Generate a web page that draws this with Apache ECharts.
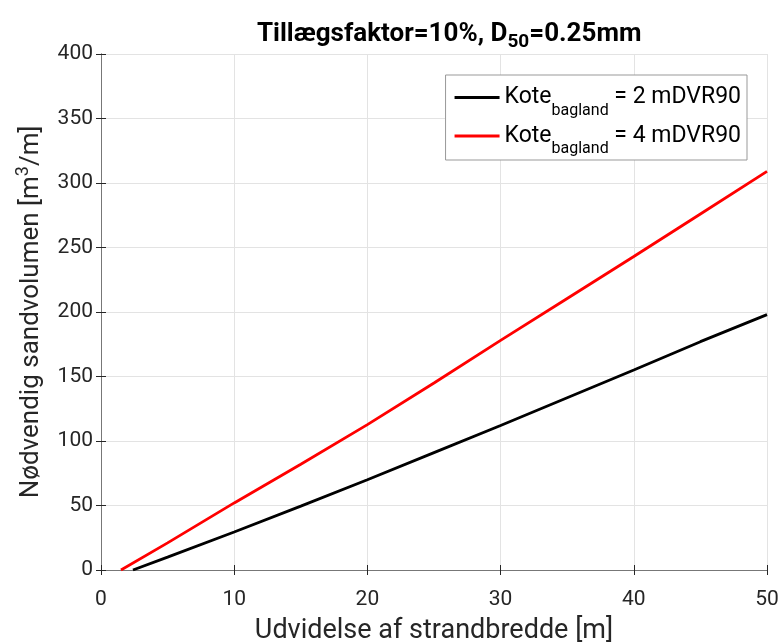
<!DOCTYPE html>
<html><head><meta charset="utf-8">
<script src="https://cdn.jsdelivr.net/npm/echarts@6/dist/echarts.min.js"></script>
<style>html,body{margin:0;padding:0;background:#fff}#c{width:781px;height:643px}</style>
</head><body><div id="c"></div>
<script>
const xTicks = [0, 10, 20, 30, 40, 50];
const yTicks = [0, 50, 100, 150, 200, 250, 300, 350, 400];
const xBlack = [2.4, 5, 10, 15, 20, 25, 30, 35, 40, 45, 50];
const yBlack = [0, 10, 29.5, 49.5, 70, 91, 112, 133.5, 155, 177, 198];
const xRed = [1.5, 5, 10, 15, 20, 25, 30, 35, 40, 45, 50];
const yRed = [0, 21, 52, 82, 112.7, 145, 178, 210.5, 243, 276, 309];
const seriesNames = ['Kote_2', 'Kote_4'];
const legendTexts = ['{a|Kote}{s|bagland}{a| = 2 mDVR90}', '{a|Kote}{s|bagland}{a| = 4 mDVR90}'];

const FONT = 'Roboto';
const txt = '#262626';
const chart = echarts.init(document.getElementById('c'), null, {renderer: 'canvas'});
const zip = (xs, ys) => xs.map((x, i) => [x, ys[i]]);
const baseX = {type: 'value', min: xTicks[0], max: xTicks[xTicks.length - 1], interval: 10};
const baseY = {type: 'value', min: yTicks[0], max: yTicks[yTicks.length - 1], interval: 50};
chart.setOption({
  animation: false,
  backgroundColor: '#fff',
  title: {
    text: '{a|Tillægsfaktor=10%, D}{s|50}{a|=0.25mm}',
    left: 252, top: 11,
    textStyle: {
      rich: {
        a: {fontFamily: FONT, fontSize: 26, fontWeight: 'bold', color: '#000', lineHeight: 36, verticalAlign: 'middle'},
        s: {fontFamily: FONT, fontSize: 19, fontWeight: 'bold', color: '#000', lineHeight: 16, verticalAlign: 'bottom'}
      }
    }
  },
  grid: {left: 101, right: 14, top: 54, bottom: 73, containLabel: false, outerBoundsMode: 'none'},
  legend: {
    orient: 'vertical', right: 34, top: 75,
    data: seriesNames,
    formatter: n => legendTexts[seriesNames.indexOf(n)],
    itemWidth: 45, itemHeight: 3, itemGap: 6,
    padding: [11, 6, 3, 9],
    borderColor: '#999', borderWidth: 1, backgroundColor: '#fff',
    icon: 'rect',
    textStyle: {
      rich: {
        a: {fontFamily: FONT, fontSize: 23, color: '#000', lineHeight: 42, verticalAlign: 'middle'},
        s: {fontFamily: FONT, fontSize: 16, color: '#000', lineHeight: 22, verticalAlign: 'bottom'}
      }
    }
  },
  xAxis: [
    Object.assign({}, baseX, {
      position: 'bottom',
      name: 'Udvidelse af strandbredde [m]', nameLocation: 'middle', nameGap: 48,
      nameTextStyle: {fontFamily: FONT, fontSize: 27, color: txt},
      axisLine: {lineStyle: {color: '#777', width: 1}},
      axisTick: {inside: true, length: 5, lineStyle: {color: txt}},
      axisLabel: {fontFamily: FONT, fontSize: 21, color: txt, margin: 19},
      splitLine: {show: true, lineStyle: {color: '#e3e3e3', width: 1}}
    }),
    Object.assign({}, baseX, {
      position: 'top',
      axisLine: {lineStyle: {color: '#777', width: 1}},
      axisTick: {inside: true, length: 5, lineStyle: {color: txt}},
      axisLabel: {show: false}, splitLine: {show: false}
    })
  ],
  yAxis: [
    Object.assign({}, baseY, {
      position: 'left',
      name: '{a|Nødvendig sandvolumen [m}{p|3}{a|/m]}', nameLocation: 'middle', nameGap: 53,
      nameTextStyle: {
        rich: {
          a: {fontFamily: FONT, fontSize: 26, color: txt, lineHeight: 34, verticalAlign: 'middle'},
          p: {fontFamily: FONT, fontSize: 18, color: txt, lineHeight: 16, verticalAlign: 'top'}
        }
      },
      axisLine: {show: true, lineStyle: {color: '#777', width: 1}},
      axisTick: {show: true, inside: true, length: 5, lineStyle: {color: txt}},
      axisLabel: {fontFamily: FONT, fontSize: 21, color: txt, margin: 8},
      splitLine: {show: true, lineStyle: {color: '#e3e3e3', width: 1}}
    }),
    Object.assign({}, baseY, {
      position: 'right',
      axisLine: {show: true, lineStyle: {color: '#777', width: 1}},
      axisTick: {show: true, inside: true, length: 5, lineStyle: {color: txt}},
      axisLabel: {show: false}, splitLine: {show: false}
    })
  ],
  series: [
    {name: seriesNames[0], type: 'line', data: zip(xBlack, yBlack), showSymbol: false, symbol: 'none',
     lineStyle: {color: '#000', width: 2.8}, itemStyle: {color: '#000'}, z: 3},
    {name: seriesNames[1], type: 'line', data: zip(xRed, yRed), showSymbol: false, symbol: 'none',
     lineStyle: {color: '#ff0000', width: 2.8}, itemStyle: {color: '#ff0000'}, z: 4}
  ]
});
</script></body></html>
